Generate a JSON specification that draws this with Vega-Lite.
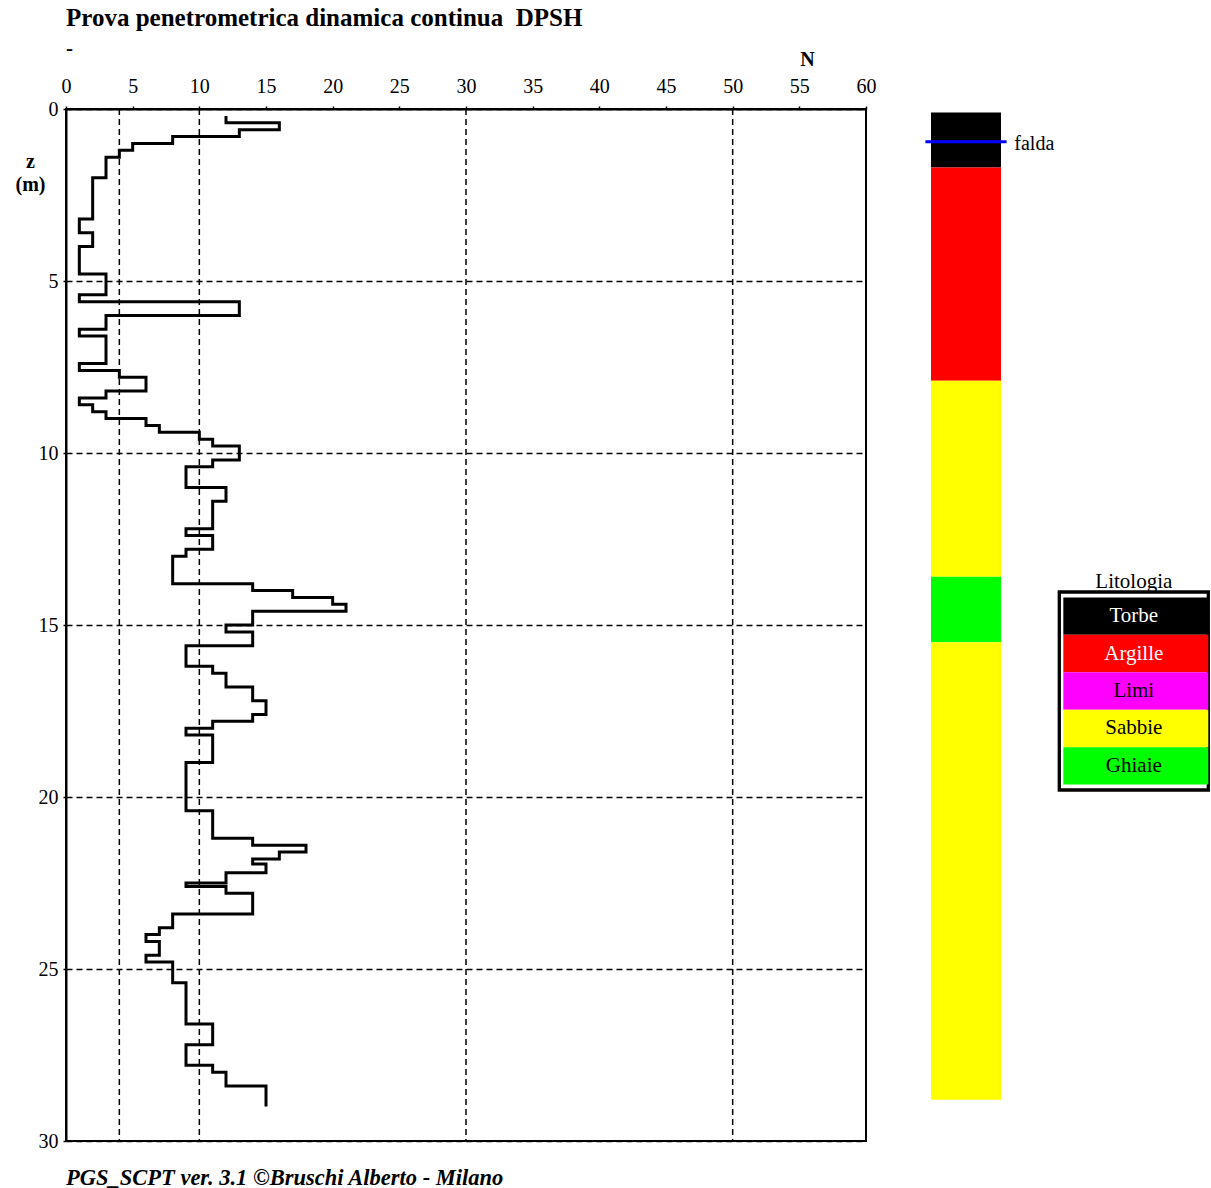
{
  "$schema": "https://vega.github.io/schema/vega-lite/v6.json",
  "autosize": {"type": "pad"},
  "padding": {"left": 14, "top": 5, "right": 0, "bottom": 0},
  "background": "white",
  "config": {
    "view": {"stroke": null},
    "font": "Liberation Serif",
    "axis": {"labelFont": "Liberation Serif", "titleFont": "Liberation Serif", "labelColor": "black", "titleColor": "black", "domainColor": "black", "tickColor": "black"},
    "title": {"font": "Liberation Serif", "color": "black", "subtitleColor": "black", "subtitleFont": "Liberation Serif"}
  },
  "title": {"text": "PGS_SCPT ver. 3.1 ©Bruschi Alberto - Milano", "orient": "bottom", "anchor": "start", "frame": "group", "fontSize": 22.5, "fontStyle": "italic", "fontWeight": "bold", "offset": 15},
  "hconcat": [
    {
      "width": 800,
      "height": 1032,
      "view": {"stroke": "black", "strokeWidth": 2},
      "title": {"text": "Prova penetrometrica dinamica continua\u00a0 DPSH", "subtitle": "\u00a0-", "anchor": "start", "frame": "group", "fontSize": 25, "fontWeight": "bold", "subtitleFontSize": 21, "subtitleFontWeight": "bold", "subtitlePadding": 7, "offset": -10},
      "layer": [
        {
          "data": {"values": [{"N": 4}, {"N": 10}, {"N": 30}, {"N": 50}]},
          "mark": {"type": "rule", "strokeDash": [6, 4], "strokeWidth": 1.5, "color": "black"},
          "encoding": {
            "x": {"field": "N", "type": "quantitative", "scale": {"domain": [0, 60], "nice": false, "zero": false},
              "axis": {"orient": "top", "values": [0, 5, 10, 15, 20, 25, 30, 35, 40, 45, 50, 55, 60], "labelFlush": false, "labelPadding": 10, "tickSize": 3, "tickWidth": 1.5, "domainWidth": 2, "labelFontSize": 20, "grid": false, "title": "N", "titleFontSize": 20, "titleFontWeight": "bold", "titleX": 741, "titleY": -50, "titleBaseline": "middle", "titleAlign": "center", "titleAngle": 0}}
          }
        },
        {
          "data": {"values": [
            {"z": 0.2, "N": 12}, {"z": 0.4, "N": 16}, {"z": 0.6, "N": 13}, {"z": 0.8, "N": 8}, {"z": 1.0, "N": 5},
            {"z": 1.2, "N": 4}, {"z": 1.4, "N": 3}, {"z": 2.0, "N": 2}, {"z": 3.2, "N": 1}, {"z": 3.6, "N": 2},
            {"z": 4.0, "N": 1}, {"z": 4.8, "N": 3}, {"z": 5.4, "N": 1}, {"z": 5.6, "N": 13}, {"z": 6.0, "N": 3},
            {"z": 6.4, "N": 1}, {"z": 6.6, "N": 3}, {"z": 7.4, "N": 1}, {"z": 7.6, "N": 4}, {"z": 7.8, "N": 6},
            {"z": 8.2, "N": 3}, {"z": 8.4, "N": 1}, {"z": 8.6, "N": 2}, {"z": 8.8, "N": 3}, {"z": 9.0, "N": 6},
            {"z": 9.2, "N": 7}, {"z": 9.4, "N": 10}, {"z": 9.6, "N": 11}, {"z": 9.8, "N": 13}, {"z": 10.2, "N": 11},
            {"z": 10.4, "N": 9}, {"z": 11.0, "N": 12}, {"z": 11.4, "N": 11}, {"z": 12.2, "N": 9}, {"z": 12.4, "N": 11},
            {"z": 12.8, "N": 9}, {"z": 13.0, "N": 8}, {"z": 13.8, "N": 14}, {"z": 14.0, "N": 17}, {"z": 14.2, "N": 20},
            {"z": 14.4, "N": 21}, {"z": 14.6, "N": 14}, {"z": 15.0, "N": 12}, {"z": 15.2, "N": 14}, {"z": 15.6, "N": 9},
            {"z": 16.2, "N": 11}, {"z": 16.4, "N": 12}, {"z": 16.8, "N": 14}, {"z": 17.2, "N": 15}, {"z": 17.6, "N": 14},
            {"z": 17.8, "N": 11}, {"z": 18.0, "N": 9}, {"z": 18.2, "N": 11}, {"z": 19.0, "N": 9}, {"z": 20.4, "N": 11},
            {"z": 21.2, "N": 14}, {"z": 21.4, "N": 18}, {"z": 21.6, "N": 16}, {"z": 21.8, "N": 14}, {"z": 21.95, "N": 15},
            {"z": 22.2, "N": 12}, {"z": 22.5, "N": 9}, {"z": 22.6, "N": 12}, {"z": 22.8, "N": 14}, {"z": 23.4, "N": 8},
            {"z": 23.8, "N": 7}, {"z": 24.0, "N": 6}, {"z": 24.2, "N": 7}, {"z": 24.6, "N": 6}, {"z": 24.8, "N": 8},
            {"z": 25.4, "N": 9}, {"z": 26.6, "N": 11}, {"z": 27.2, "N": 9}, {"z": 27.8, "N": 11}, {"z": 28.0, "N": 12},
            {"z": 28.4, "N": 15}, {"z": 29.0, "N": 15}
          ]},
          "mark": {"type": "line", "interpolate": "step-before", "color": "black", "strokeWidth": 3},
          "encoding": {
            "x": {"field": "N", "type": "quantitative", "scale": {"domain": [0, 60], "nice": false, "zero": false},
              "axis": {"orient": "top", "values": [0, 5, 10, 15, 20, 25, 30, 35, 40, 45, 50, 55, 60], "labelFlush": false, "labelPadding": 10, "tickSize": 3, "tickWidth": 1.5, "domainWidth": 2, "labelFontSize": 20, "grid": false, "title": "N", "titleFontSize": 20, "titleFontWeight": "bold", "titleX": 741, "titleY": -50, "titleBaseline": "middle", "titleAlign": "center", "titleAngle": 0}},
            "y": {"field": "z", "type": "quantitative", "scale": {"domain": [0, 30], "reverse": true, "nice": false, "zero": false},
              "axis": {"orient": "left", "values": [0, 5, 10, 15, 20, 25, 30], "labelFlush": false, "labelPadding": 5, "tickSize": 3, "tickWidth": 1.5, "domainWidth": 2, "labelFontSize": 20, "grid": true, "gridDash": [6, 4], "gridColor": "black", "gridWidth": 1.5, "gridOpacity": 1, "title": ["z", "(m)"], "titleFontSize": 20, "titleFontWeight": "bold", "titleX": -36, "titleY": 52, "titleAngle": 0, "titleAlign": "center", "titleBaseline": "middle", "titleLineHeight": 23}},
            "order": {"field": "z", "type": "quantitative"}
          }
        }
      ]
    },
    {
      "hconcat": [
        {
          "width": 70,
          "height": 1032,
          "layer": [
            {
              "data": {"values": [
                {"top": 0.1, "bottom": 1.7, "tipo": "Torbe"},
                {"top": 1.7, "bottom": 7.9, "tipo": "Argille"},
                {"top": 7.9, "bottom": 13.6, "tipo": "Sabbie"},
                {"top": 13.6, "bottom": 15.5, "tipo": "Ghiaie"},
                {"top": 15.5, "bottom": 28.8, "tipo": "Sabbie"}
              ]},
              "mark": {"type": "rect"},
              "encoding": {
                "x": {"datum": 0, "type": "quantitative", "scale": {"domain": [0, 1], "nice": false, "zero": false}, "axis": null},
                "x2": {"datum": 1},
                "y": {"field": "top", "type": "quantitative", "scale": {"domain": [0, 30], "reverse": true, "nice": false, "zero": false}, "axis": null},
                "y2": {"field": "bottom"},
                "color": {"field": "tipo", "type": "nominal", "scale": {"domain": ["Torbe", "Argille", "Limi", "Sabbie", "Ghiaie"], "range": ["#000000", "#ff0000", "#ff00ff", "#ffff00", "#00ff00"]}, "legend": null}
              }
            },
            {
              "data": {"values": [{"falda": 0.95, "label": "falda"}]},
              "mark": {"type": "rule", "color": "#0000ff", "strokeWidth": 3},
              "encoding": {
                "x": {"datum": -0.08, "type": "quantitative"},
                "x2": {"datum": 1.08},
                "y": {"field": "falda", "type": "quantitative"}
              }
            },
            {
              "data": {"values": [{"falda": 0.95, "label": "falda"}]},
              "mark": {"type": "text", "align": "left", "baseline": "middle", "font": "Liberation Serif", "fontSize": 20, "dy": 2, "color": "black"},
              "encoding": {
                "x": {"datum": 1.19, "type": "quantitative"},
                "y": {"field": "falda", "type": "quantitative"},
                "text": {"field": "label"}
              }
            }
          ]
        },
        {
          "vconcat": [
            {
              "width": 149,
              "height": 483,
              "data": {"values": [{}]},
              "mark": {"type": "text", "text": ""},
              "encoding": {}
            },
            {
              "width": 149,
              "height": 198,
              "view": {"stroke": "black", "strokeWidth": 3.3},
              "title": {"text": "Litologia", "anchor": "middle", "fontSize": 21, "fontWeight": "normal", "offset": 0},
              "data": {"values": [{"tipo": "Torbe"}, {"tipo": "Argille"}, {"tipo": "Limi"}, {"tipo": "Sabbie"}, {"tipo": "Ghiaie"}]},
              "encoding": {
                "y": {"field": "tipo", "type": "nominal", "sort": null, "scale": {"domain": ["Torbe", "Argille", "Limi", "Sabbie", "Ghiaie"], "paddingInner": 0, "paddingOuter": 0.145}, "axis": null}
              },
              "layer": [
                {
                  "mark": {"type": "rect"},
                  "encoding": {
                    "x": {"datum": 0.027, "type": "quantitative", "scale": {"domain": [0, 1], "nice": false, "zero": false}, "axis": null},
                    "x2": {"datum": 1},
                    "color": {"field": "tipo", "type": "nominal", "scale": {"domain": ["Torbe", "Argille", "Limi", "Sabbie", "Ghiaie"], "range": ["#000000", "#ff0000", "#ff00ff", "#ffff00", "#00ff00"]}, "legend": null}
                  }
                },
                {
                  "mark": {"type": "text", "font": "Liberation Serif", "fontSize": 21},
                  "encoding": {
                    "x": {"datum": 0.5, "type": "quantitative"},
                    "text": {"field": "tipo"},
                    "color": {"condition": {"test": "datum.tipo === 'Torbe' || datum.tipo === 'Argille'", "value": "white"}, "value": "black"}
                  }
                }
              ]
            }
          ],
          "spacing": 0,
          "bounds": "flush"
        }
      ],
      "spacing": 58.3,
      "bounds": "flush"
    }
  ],
  "spacing": 65,
  "bounds": "flush"
}
